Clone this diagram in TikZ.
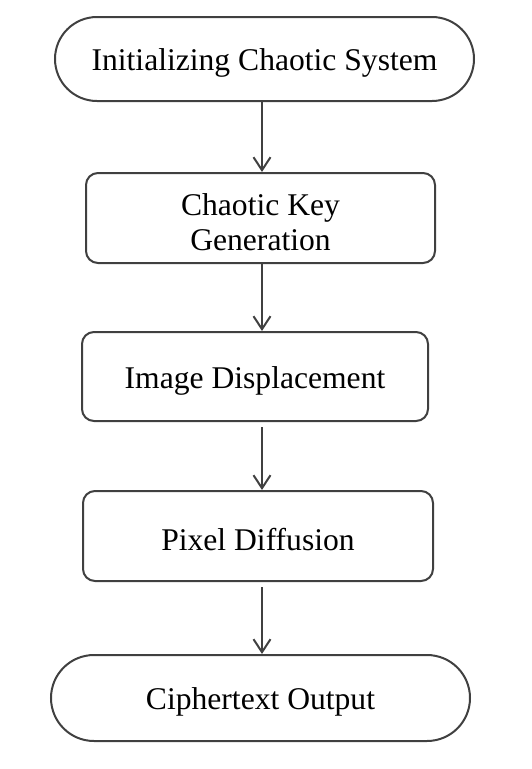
\documentclass[tikz,border=0pt]{standalone}
\usepackage{fontspec}
\setmainfont{Liberation Serif}
\usetikzlibrary{arrows.meta,shapes.misc}
\definecolor{edge}{HTML}{404040}
\tikzset{
  base/.style={draw=edge, line width=2pt, inner sep=0pt},
  txt/.style={align=center, inner sep=0pt, font=\fontsize{31.6}{35}\selectfont, text=black, yshift=-4pt},
  pill/.style={base, rounded rectangle, rounded rectangle arc length=180},
  boxr/.style={base, rectangle, rounded corners=12pt},
  flow/.style={draw=edge, line width=2pt, -{Straight Barb[length=13pt,width=17pt,line width=2pt]}}
}
\begin{document}
\begin{tikzpicture}[x=1pt,y=-1pt]
\useasboundingbox (0,0) rectangle (532,769);
\node[pill, minimum width=419pt, minimum height=84pt, label={[txt]center:Initializing Chaotic System}] (b1) at (264.5,59) {};
\node[boxr, minimum width=349pt, minimum height=90pt, label={[txt]center:Chaotic Key\\Generation}] (b2) at (260.5,218) {};
\node[boxr, minimum width=346pt, minimum height=89pt, label={[txt]center:Image Displacement}] (b3) at (255,376.5) {};
\node[boxr, minimum width=350pt, minimum height=90pt, label={[txt]center:Pixel Diffusion}] (b4) at (258,536) {};
\node[pill, minimum width=419pt, minimum height=86pt, label={[txt]center:Ciphertext Output}] (b5) at (260.5,698) {};
\coordinate (ax) at (262,0);
\draw[flow] (b1.south -| ax) -- (b2.north -| ax);
\draw[flow] (b2.south -| ax) -- (b3.north -| ax);
\draw[flow, shorten <=5pt] (b3.south -| ax) -- (b4.north -| ax);
\draw[flow, shorten <=5pt] (b4.south -| ax) -- (b5.north -| ax);
\end{tikzpicture}
\end{document}
